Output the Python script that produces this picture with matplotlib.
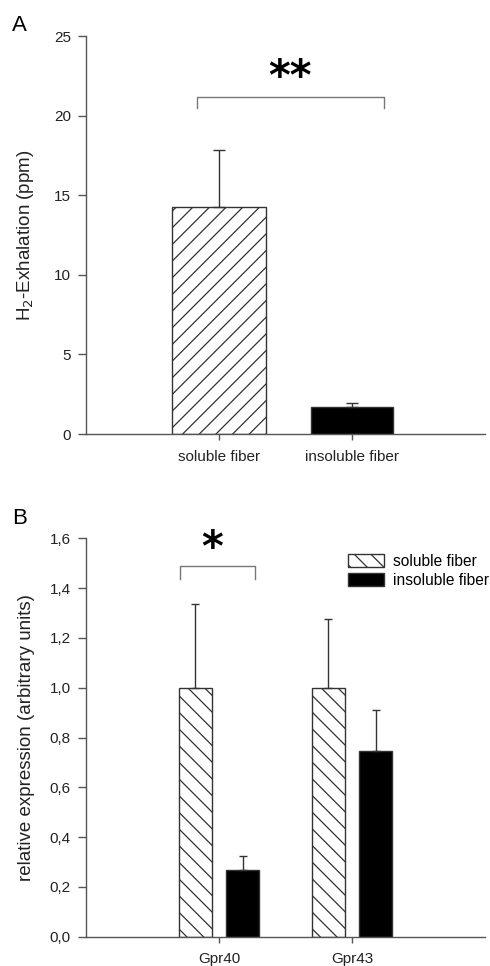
import matplotlib
matplotlib.use("Agg")
import matplotlib.pyplot as plt
from matplotlib.patches import Patch
from matplotlib.ticker import FuncFormatter

plt.rcParams['font.family'] = ['Liberation Sans', 'DejaVu Sans']
plt.rcParams['hatch.linewidth'] = 0.9

# ---- Data panel A ----
a_categories = ["soluble fiber", "insoluble fiber"]
a_values = [14.28, 1.70]
a_errors = [3.55, 0.25]

# ---- Data panel B ----
b_genes = ["Gpr40", "Gpr43"]
b_soluble = [1.00, 1.00]
b_soluble_err = [0.335, 0.275]
b_insoluble = [0.27, 0.745]
b_insoluble_err = [0.054, 0.166]
b_yticks = [0.0, 0.2, 0.4, 0.6, 0.8, 1.0, 1.2, 1.4, 1.6]

edge = '#333333'
spine_c = '#555555'
star_font = ['DejaVu Sans']

fig = plt.figure(figsize=(4.9, 9.66), dpi=100)
axA = fig.add_axes([0.1755, 0.5507, 0.8143, 0.412])
axB = fig.add_axes([0.1755, 0.0303, 0.8143, 0.4124])

def style(ax):
    for s in ['top', 'right']:
        ax.spines[s].set_visible(False)
    for s in ['left', 'bottom']:
        ax.spines[s].set_color(spine_c)
        ax.spines[s].set_linewidth(1.0)
    ax.tick_params(axis='y', direction='out', length=5.8, width=1.0, color=spine_c,
                   labelsize=11, pad=5, labelcolor='#222222')
    ax.tick_params(axis='x', direction='out', length=4.3, width=1.0, color=spine_c,
                   labelsize=11, pad=7, labelcolor='#222222')

# ---- Panel A ----
xa = [0, 1]
axA.bar(xa, a_values, width=[0.70, 0.61], color=['white', 'black'], edgecolor=edge,
        linewidth=1.0, hatch=['//', ''], zorder=2)
axA.errorbar(xa, a_values, yerr=[[0, 0], a_errors], fmt='none', ecolor=edge,
             elinewidth=1.0, capsize=4.0, capthick=1.0, zorder=3)
axA.set_xlim(-1.0, 2.0)
axA.set_ylim(0, 25)
axA.set_yticks([0, 5, 10, 15, 20, 25])
axA.set_xticks(xa)
axA.set_xticklabels(a_categories)
axA.set_ylabel("H$_2$-Exhalation (ppm)", fontsize=13.5, labelpad=13, color='#222222')
style(axA)
# significance bracket
axA.plot([-0.162, -0.162, 1.24, 1.24], [20.45, 21.2, 21.2, 20.45], color='#777777', lw=1.0,
         clip_on=False)
axA.text(0.535, 21.6, "**", ha='center', va='baseline', fontsize=30, fontweight='bold',
         family=star_font)
fig.text(0.025, 0.984, "A", fontsize=16, ha='left', va='top')

# ---- Panel B ----
xb = [0, 1]
off = 0.177
w = 0.248
axB.bar([x - off for x in xb], b_soluble, width=w, color='white', edgecolor=edge,
        linewidth=1.0, hatch='\\\\', zorder=2)
axB.bar([x + off for x in xb], b_insoluble, width=w, color='black', edgecolor=edge,
        linewidth=1.0, zorder=2)
axB.errorbar([x - off for x in xb], b_soluble, yerr=[[0, 0], b_soluble_err], fmt='none',
             ecolor=edge, elinewidth=1.0, capsize=2.6, capthick=1.0, zorder=3)
axB.errorbar([x + off for x in xb], b_insoluble, yerr=[[0, 0], b_insoluble_err], fmt='none',
             ecolor=edge, elinewidth=1.0, capsize=2.6, capthick=1.0, zorder=3)
axB.set_xlim(-1.0, 2.0)
axB.set_ylim(0, 1.6)
axB.set_yticks(b_yticks)
axB.yaxis.set_major_formatter(FuncFormatter(lambda v, p: f"{v:.1f}".replace('.', ',')))
axB.set_xticks(xb)
axB.set_xticklabels(b_genes)
axB.set_ylabel("relative expression (arbitrary units)", fontsize=13.5, labelpad=11,
               color='#222222')
style(axB)
axB.plot([-0.293, -0.293, 0.268, 0.268], [1.436, 1.488, 1.488, 1.436], color='#777777', lw=1.0)
axB.text(-0.05, 1.51, "*", ha='center', va='baseline', fontsize=30, fontweight='bold',
         family=star_font)
fig.text(0.025, 0.474, "B", fontsize=16, ha='left', va='top')

handles = [Patch(facecolor='white', edgecolor=edge, hatch='\\\\', linewidth=1.0),
           Patch(facecolor='black', edgecolor=edge, linewidth=1.0)]
axB.legend(handles, ["soluble fiber", "insoluble fiber"], loc='upper left',
           bbox_to_anchor=(0.657, 0.96), frameon=False, fontsize=11.2,
           handlelength=2.3, handleheight=0.9, handletextpad=0.6, labelspacing=0.25,
           borderpad=0, borderaxespad=0)

fig.savefig("out.png", dpi=100)
